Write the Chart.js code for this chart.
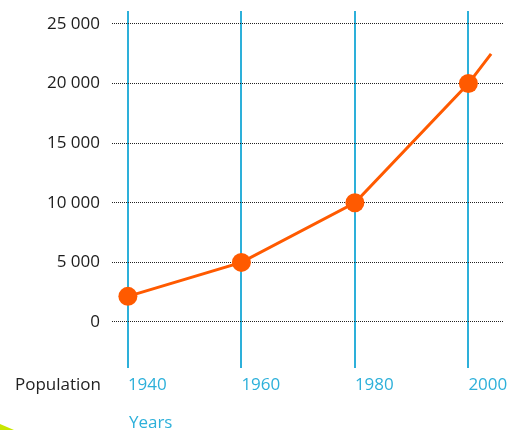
<!DOCTYPE html>
<html>
<head>
<meta charset="utf-8">
<script src="https://cdn.jsdelivr.net/npm/chart.js@4/dist/chart.umd.min.js"></script>
<style>
  html, body { margin: 0; padding: 0; background: #fff; }
  #wrap { width: 508px; height: 430px; position: relative; }
</style>
</head>
<body>
<div id="wrap"><canvas id="popChart" width="508" height="430"></canvas></div>
<script>
// Data
const years = [1940, 1960, 1980, 2000];
const population = [2150, 5000, 10000, 20000];
// the line keeps going past 2000 without a marker
const trendEnd = { x: 2004, y: 22500 };
const yTicks = [0, 5000, 10000, 15000, 20000, 25000];

const blue = "#2db0da";
const orange = "#ff5a00";
const fontFamily = "'Open Sans', 'Noto Sans', sans-serif";

function fmt(v) {
    return String(v).replace(/\B(?=(\d{3})+(?!\d))/g, " ");
}

// extra texts and the little green corner
const extras = {
    id: "extras",
    afterDraw(chart) {
        const ctx = chart.ctx;
        ctx.save();
        ctx.font = "17px " + fontFamily;
        ctx.textBaseline = "alphabetic";
        ctx.fillStyle = "#222";
        ctx.textAlign = "right";
        ctx.fillText("Population", 101, 390);
        ctx.fillStyle = blue;
        ctx.textAlign = "left";
        ctx.fillText("Years", chart.scales.x.getPixelForValue(1940) + 1, 428);
        ctx.fillStyle = "#c8e600";
        ctx.beginPath();
        ctx.moveTo(0, 424);
        ctx.lineTo(14, 430);
        ctx.lineTo(0, 430);
        ctx.closePath();
        ctx.fill();
        ctx.restore();
    }
};

const points = years.map((y, i) => ({ x: y, y: population[i] }));

new Chart(document.getElementById("popChart"), {
    type: "line",
    data: {
        datasets: [{
            data: points.concat([trendEnd]),
            borderColor: orange,
            backgroundColor: orange,
            borderWidth: 3,
            pointRadius: ctx => (ctx.dataIndex < years.length ? 9.5 : 0),
            pointBorderWidth: 0,
            pointHoverRadius: 9.5,
            tension: 0
        }]
    },
    options: {
        responsive: false,
        animation: false,
        layout: { autoPadding: false, padding: { top: 11, right: 5, left: 0, bottom: 0 } },
        plugins: { legend: { display: false }, tooltip: { enabled: false } },
        scales: {
            x: {
                type: "linear",
                min: 1937.2,
                max: 2006.1,
                afterBuildTicks: s => { s.ticks = years.map(v => ({ value: v })); },
                afterFit: s => { s.height = 62; s.paddingLeft = 0; s.paddingRight = 0; },
                border: { display: false },
                grid: { color: blue, lineWidth: 2, drawTicks: false },
                ticks: {
                    align: "start",
                    padding: 7,
                    color: blue,
                    font: { family: fontFamily, size: 17 },
                    callback: v => String(v)
                }
            },
            y: {
                min: -3860,
                max: 26090,
                afterBuildTicks: s => { s.ticks = yTicks.map(v => ({ value: v })); },
                afterFit: s => { s.width = 112; s.paddingTop = 0; s.paddingBottom = 0; },
                border: { display: false, dash: [1, 1] },
                grid: { color: "#222", lineWidth: 1, drawTicks: false },
                ticks: {
                    padding: 12,
                    color: "#1c1c1c",
                    font: { family: fontFamily, size: 17 },
                    callback: v => fmt(v)
                }
            }
        }
    },
    plugins: [extras]
});
</script>
</body>
</html>
